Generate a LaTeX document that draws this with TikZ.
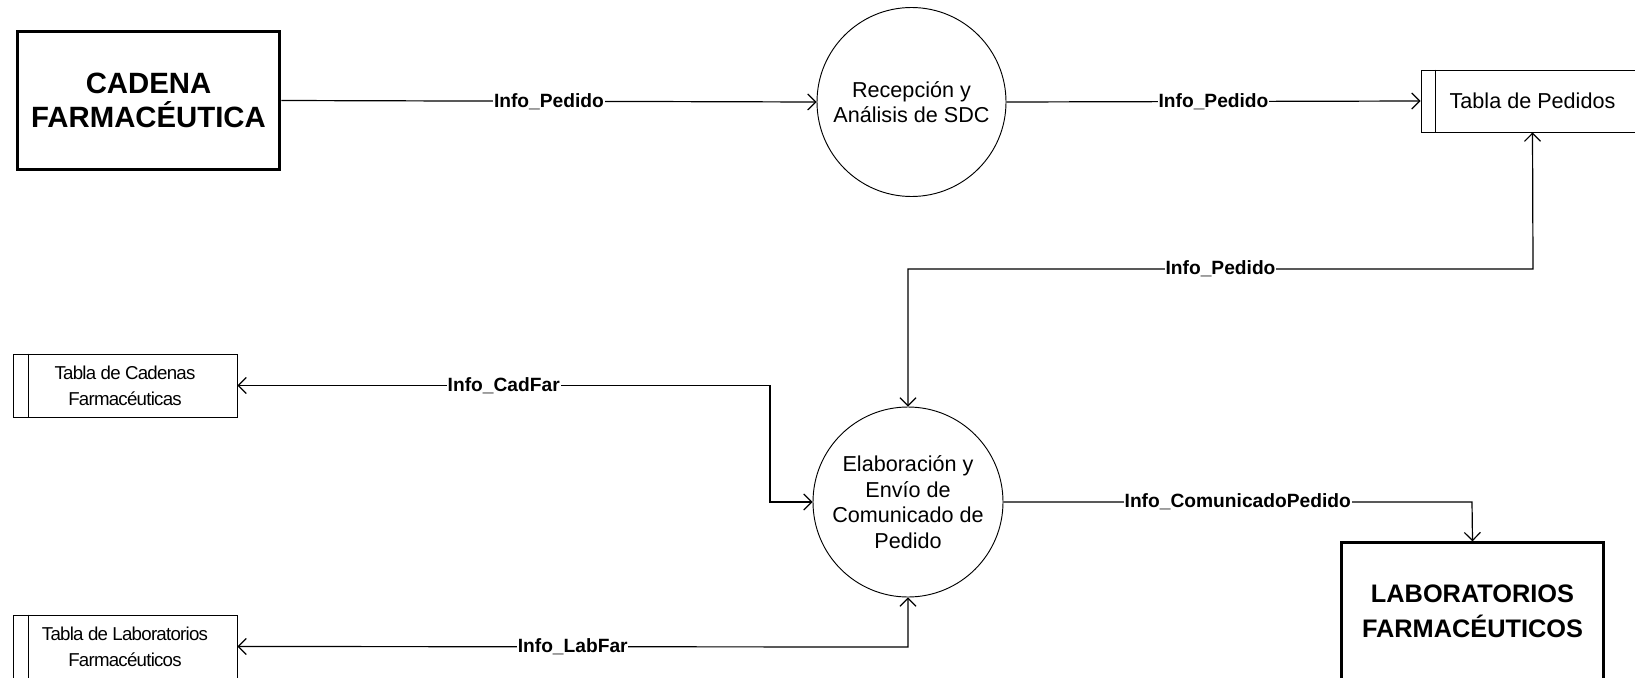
\documentclass[tikz,border=0pt]{standalone}
\usepackage{fontspec}
\setmainfont{Liberation Sans}
\newfontfamily\narrowf[LetterSpace=-4]{Liberation Sans}
\usetikzlibrary{arrows.meta}
\tikzset{
  x=0.75pt, y=-0.75pt,
  tip/.tip={Straight Barb[length=6pt,width=12pt,line width=0.9pt]},
  conn/.style={line width=0.9pt, line join=miter},
  extbox/.style={draw, line width=2.3pt, minimum width=197pt, minimum height=103pt, inner sep=0pt, align=center,
     font=\fontsize{22}{25.5}\selectfont\bfseries},
  proc/.style={draw, circle, line width=0.7pt, inner sep=0pt, align=center,
     font=\fontsize{16.2}{19.1}\selectfont},
  store/.style={draw, line width=0.7pt, inner sep=0pt, align=center},
  lbl/.style={fill=white, inner sep=0.6pt, font=\fontsize{14.4}{16}\selectfont\bfseries}
}
\begin{document}
\begin{tikzpicture}
\useasboundingbox (0,0) rectangle (1635,678);
\clip (0,0) rectangle (1635,678);
% external entities
\node[extbox] (cad) at (148.5,100.5) {CADENA\\FARMAC\'EUTICA};
\node[extbox, font=\fontsize{19}{26.25}\selectfont\bfseries] (lab) at (1472.5,611.5) {LABORATORIOS\\FARMAC\'EUTICOS};
% processes
\node[proc, minimum size=141.75pt] (c1) at (911.5,102) {Recepci\'on y\\An\'alisis de SDC};
\node[proc, minimum size=142.5pt] (c2) at (908,502) {Elaboraci\'on y\\Env\'io de\\Comunicado de\\Pedido};
% data stores
\node[store, minimum width=167.25pt, minimum height=46.5pt, font=\fontsize{16.2}{19.1}\selectfont] (tp) at (1532.5,101) {Tabla de Pedidos};
\draw[line width=0.7pt] ([xshift=11.25pt]tp.north west) -- ([xshift=11.25pt]tp.south west);
\node[store, minimum width=168pt, minimum height=47.25pt, font=\fontsize{14}{19.5}\selectfont\narrowf] (tc) at (125,385.5) {Tabla de Cadenas\\Farmac\'euticas};
\draw[line width=0.7pt] ([xshift=12pt]tc.north west) -- ([xshift=12pt]tc.south west);
\node[store, minimum width=168pt, minimum height=47.25pt, font=\fontsize{14}{19.5}\selectfont\narrowf] (tl) at (125,646.5) {Tabla de Laboratorios\\Farmac\'euticos};
\draw[line width=0.7pt] ([xshift=12pt]tl.north west) -- ([xshift=12pt]tl.south west);
% bend points
\coordinate (k1) at (1533,269);
\coordinate (k2) at (908,269);
\coordinate (k3) at (770,385.5);
\coordinate (k4) at (770,502);
\coordinate (k5) at (908,647);
\coordinate (k6) at (1472,502);
% connectors
\draw[conn, -{tip}] (cad.east) -- node[lbl]{Info\_Pedido} (c1.west);
\draw[conn, -{tip}] (c1.east) -- node[lbl]{Info\_Pedido} (tp.west);
\draw[conn, {tip}-{tip}] (tp.south) -- (k1) -- node[lbl]{Info\_Pedido} (k2) -- (c2.north);
\draw[conn, {tip}-{tip}] (tc.east) -- node[lbl]{Info\_CadFar} (k3) -- (k4) -- (c2.west);
\draw[conn, {tip}-{tip}] (tl.east) -- node[lbl]{Info\_LabFar} (k5) -- (c2.south);
\draw[conn, -{tip}] (c2.east) -- node[lbl]{Info\_ComunicadoPedido} (k6) -- (lab.north);
\end{tikzpicture}
\end{document}
